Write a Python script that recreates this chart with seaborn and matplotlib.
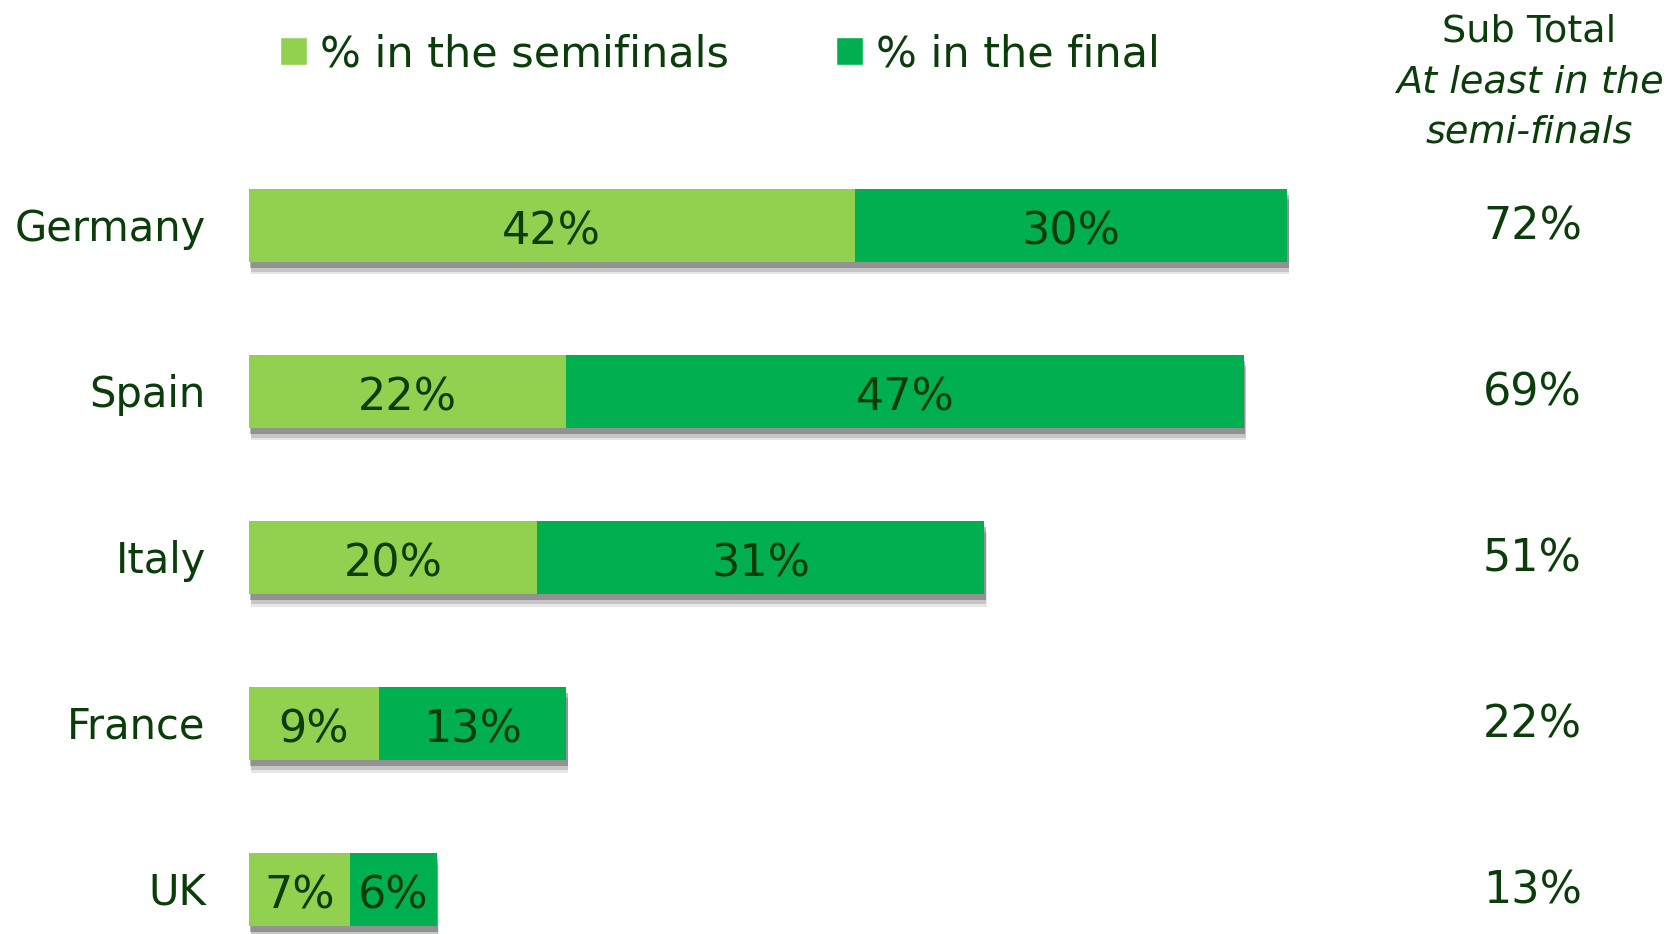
import matplotlib
matplotlib.use("Agg")
import matplotlib.pyplot as plt
import matplotlib.patheffects as pe
from matplotlib.patches import Patch
import seaborn as sns
import pandas as pd

# ==============================
# DATA
# ==============================
countries = ["Germany", "Spain", "Italy", "France", "UK"]
semifinals = [42, 22, 20, 9, 7]
finals = [30, 47, 31, 13, 6]
subtotals = [72, 69, 51, 22, 13]

LIGHT = "#92D050"
DARK = "#00B050"
TXT = "#0B3D0B"

df = pd.DataFrame({"country": countries, "semi": semifinals, "final": finals})
df["total"] = df["semi"] + df["final"]

sns.set_theme(style="white")
plt.rcParams["font.family"] = ["DejaVu Sans"]

fig = plt.figure(figsize=(16.68, 9.34), dpi=100)
ax = fig.add_axes([0, 0, 1, 1])

# total bar (dark) underneath, then semifinal part on top
sns.barplot(data=df, x="total", y="country", color=DARK, width=0.44,
            saturation=1, linewidth=0, ax=ax)
sns.barplot(data=df, x="semi", y="country", color=LIGHT, width=0.44,
            saturation=1, linewidth=0, ax=ax)

# soft drop shadow under each full bar
shadow = [pe.SimplePatchShadow(offset=(1.5, -9), shadow_rgbFace="k", alpha=0.1),
          pe.SimplePatchShadow(offset=(1.2, -7), shadow_rgbFace="k", alpha=0.16),
          pe.SimplePatchShadow(offset=(1, -4.5), shadow_rgbFace="k", alpha=0.3),
          pe.Normal()]
for p in ax.containers[0]:
    p.set_path_effects(shadow)

ax.set_xlim(-17.27, 98.4)
ax.set_ylim(4.268, -1.358)
ax.axis("off")

# labels
for i in range(len(countries)):
    s, f = semifinals[i], finals[i]
    ax.text(s / 2, i + 0.04, f"{s}%", ha="center", va="center", fontsize=32, color=TXT)
    ax.text(s + f / 2, i + 0.04, f"{f}%", ha="center", va="center", fontsize=32, color=TXT)
    ax.text(-3, i + 0.02, countries[i], ha="right", va="center", fontsize=30, color=TXT)
    ax.text(89.0, i + 0.01, f"{subtotals[i]}%", ha="center", va="center", fontsize=32, color=TXT)

# sub total header
fig.text(0.917, 0.966, "Sub Total", ha="center", va="center", fontsize=27.5, color=TXT)
fig.text(0.917, 0.912, "At least in the", ha="center", va="center", fontsize=27.5,
         color=TXT, style="italic")
fig.text(0.917, 0.858, "semi-finals", ha="center", va="center", fontsize=27.5,
         color=TXT, style="italic")

# legend
handles = [Patch(facecolor=LIGHT, label="% in the semifinals"),
           Patch(facecolor=DARK, label="% in the final")]
fig.legend(handles=handles, loc="center left",
           bbox_to_anchor=(0.168, 0.942), ncol=2, frameon=False,
           fontsize=31, handlelength=0.62, handleheight=0.62,
           handletextpad=0.3, columnspacing=2.5, labelcolor=TXT,
           borderpad=0, borderaxespad=0)

fig.savefig("out.png", dpi=100)
